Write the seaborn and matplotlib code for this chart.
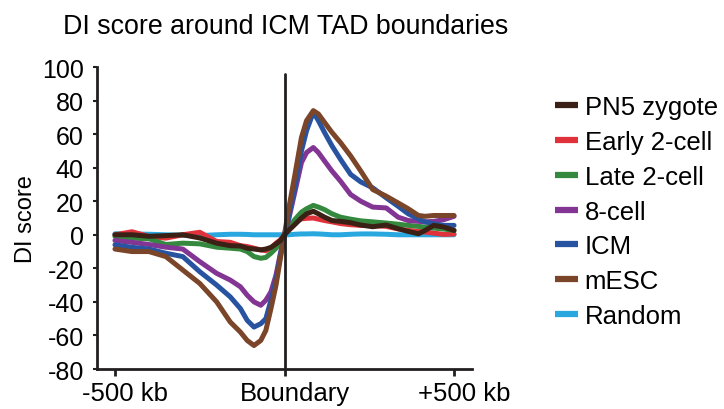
import numpy as np
import pandas as pd
import matplotlib
matplotlib.use("Agg")
import matplotlib.pyplot as plt
import matplotlib.transforms as mtransforms
import seaborn as sns

positions = [-500, -450, -400, -350, -300, -250, -200, -160, -130, -110, -90, -70, -55, -40,
             -25, -12, 0, 12, 30, 50, 65, 85, 100, 118, 140, 165, 195, 225, 260, 300,
             335, 365, 395, 415, 440, 470, 500]

pn5_zygote = [0, 0, -0.9, -0.5, 0, -1.9, -5, -6.5, -6.7, -8, -8.5, -9, -8.5, -7.5,
              -5.5, -3.5, 0, 2.5, 6, 10, 12.5, 14, 12.5, 10.5, 8.5, 8, 7.2, 5.8, 4.8, 5.8,
              3.6, 2, 0.6, 2.6, 5.6, 4.6, 2.6]
early_2cell = [0, 1.8, -1, -2, 0, 1.5, -4, -4.5, -6.5, -7, -8, -9, -9.5, -8,
               -5, -3, 0, 3.5, 7.7, 9.5, 9.8, 10, 9.3, 8.5, 7.7, 6.7, 6, 5.6, 5.6, 5,
               3.5, 2.6, 2, 1.6, 1, 0.2, 0.5]
late_2cell = [-1, -2, -2.4, -5.8, -5, -5.4, -7.4, -8, -8.5, -10, -13, -14, -13.5, -11,
              -8, -4.5, 0, 4, 9, 13.5, 15.5, 17.5, 16.5, 15, 12.5, 10.5, 9.3, 8.3, 7.7, 7,
              6.3, 5.6, 5, 4.6, 4, 3.4, 2.6]
cell8 = [-3.4, -4.5, -5.8, -7.4, -8.5, -16, -23, -27, -31, -36, -40, -42, -39, -34,
         -24, -11, 0, 9, 25, 43, 49, 52, 49, 44, 38, 32, 24, 20, 16.5, 16,
         10.5, 8.5, 8, 7.7, 8, 9, 11]
icm = [-6, -7.5, -8.5, -11, -13, -22, -30, -37, -44, -51, -55, -53, -50, -39,
       -27, -12, 0, 10, 28, 50, 62, 73, 68, 61, 53, 45, 36, 31.5, 28, 22,
       17, 12.5, 9.5, 7.7, 6.5, 5.6, 5.6]
mesc = [-8.5, -10, -10, -13, -21, -29, -40, -52, -58, -63, -66, -63, -57, -44,
        -30, -14, 0, 15, 35, 58, 68, 74, 72, 67, 61, 55, 47, 38, 27, 23,
        19, 15.5, 11.5, 11, 11.5, 11.5, 11.5]
random_ = [0.6, 0.5, 0.3, 0, -0.3, -0.5, 0, 0.3, 0.3, 0.2, 0, 0, 0, 0,
           0, 0, 0, 0, 0.3, 0.5, 0.5, 0.6, 0.5, 0.3, 0, 0, 0.3, 0.5, 0.5, 0.3,
           0, 0, 0, 0, 0, 0, 0]

series_names = ["PN5 zygote", "Early 2-cell", "Late 2-cell", "8-cell", "ICM", "mESC", "Random"]
series_values = [pn5_zygote, early_2cell, late_2cell, cell8, icm, mesc, random_]
colors = ["#3b2115", "#e0323a", "#34893f", "#823592", "#2753a0", "#7a4529", "#29a8e0"]

xtick_pos = [-500, 0, 500]
xtick_labels = ["-500 kb", "Boundary", "+500 kb"]
yticks = list(range(-80, 101, 20))

rows = []
for name, vals in zip(series_names, series_values):
    for x, v in zip(positions, vals):
        rows.append({"pos": x, "DI": v, "sample": name})
df = pd.DataFrame(rows)

sns.set_style("white")
plt.rcParams["font.family"] = ["Liberation Sans", "DejaVu Sans"]
plt.rcParams["text.color"] = "black"
plt.rcParams["axes.labelcolor"] = "black"
plt.rcParams["xtick.color"] = "black"
plt.rcParams["ytick.color"] = "black"

fig = plt.figure(figsize=(7.24, 4.10), dpi=100)
ax = fig.add_axes([97 / 724, 1 - 370 / 410, (472 - 97) / 724, (370 - 68) / 410])

sns.lineplot(data=df, x="pos", y="DI", hue="sample", hue_order=series_names,
             palette=colors, linewidth=3.6, sort=False, ax=ax, legend=True)

zorders = {"Random": 2, "Early 2-cell": 3, "Late 2-cell": 4, "8-cell": 5,
           "ICM": 6, "mESC": 7, "PN5 zygote": 8}
for line, name in zip(ax.lines, series_names):
    line.set_zorder(zorders[name])
    line.set_solid_joinstyle("round")
    line.set_solid_capstyle("round")

ax.axvline(0, ymin=0, ymax=(96 + 80) / 180, color="#231f20", linewidth=2.0, zorder=9)

ax.set_xlim(-553, 553)
ax.set_ylim(-80, 100)
ax.set_xticks(xtick_pos)
ax.set_xticklabels(xtick_labels, fontsize=18.5)
ax.set_yticks(yticks)
ax.set_yticklabels([str(t) for t in yticks], fontsize=18)
ax.set_xlabel("")
ax.set_ylabel("DI score", fontsize=17)
ax.yaxis.set_label_coords((37 - 97) / 375, 0.5)

for side in ["top", "right"]:
    ax.spines[side].set_visible(False)
for side in ["left", "bottom"]:
    ax.spines[side].set_color("#231f20")
    ax.spines[side].set_linewidth(2.0)
ax.tick_params(axis="x", direction="out", length=5, width=2, color="#231f20", pad=4, bottom=True)
ax.tick_params(axis="y", direction="out", length=3, width=1.5, color="#231f20", pad=6.5, left=True)

shift = mtransforms.ScaledTranslation(10 / 100, 0, fig.dpi_scale_trans)
for tick in ax.xaxis.get_major_ticks():
    tick.label1.set_transform(tick.label1.get_transform() + shift)

handles, labels = ax.get_legend_handles_labels()
leg = ax.legend(handles, labels, loc="upper left", bbox_to_anchor=(545 / 724, 1 - 86 / 410),
                bbox_transform=fig.transFigure, frameon=False, fontsize=18.5,
                handlelength=0.9, handletextpad=0.25, labelspacing=0.42, borderaxespad=0)
for h in leg.legend_handles:
    h.set_linewidth(4.5)
    h.set_solid_capstyle("butt")

fig.text(63 / 724, 1 - 34 / 410, "DI score around ICM TAD boundaries", fontsize=19.3,
         ha="left", va="baseline")

fig.savefig("out.png", dpi=100)
